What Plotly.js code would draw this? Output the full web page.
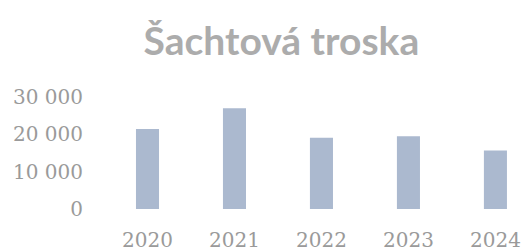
<!DOCTYPE html>
<html>
<head>
<meta charset="utf-8">
<script src="https://cdn.plot.ly/plotly-3.0.1.min.js"></script>
<style>html,body{margin:0;padding:0;background:#fff;}#chart{width:525px;height:251px;}</style>
</head>
<body>
<div id="chart"></div>
<script>
const years = ["2020", "2021", "2022", "2023", "2024"];
const values = [21400, 27000, 19100, 19500, 15700];
const yTicks = [0, 10000, 20000, 30000];
const yTickLabels = ["0", "10 000", "20 000", "30 000"];
const chartTitle = "Šachtová troska";

Plotly.newPlot("chart", [{
  type: "bar",
  x: years,
  y: values,
  marker: {color: "#abb9cf"},
  hoverinfo: "none"
}], {
  width: 525,
  height: 251,
  margin: {l: 104, r: 0, t: 97, b: 42},
  paper_bgcolor: "#ffffff",
  plot_bgcolor: "#ffffff",
  bargap: 0.735,
  showlegend: false,
  title: {
    text: chartTitle,
    x: 0.536, xanchor: "center",
    y: 0.835, yanchor: "middle",
    font: {family: "Lato, sans-serif", size: 39, color: "#acacac", weight: 700}
  },
  xaxis: {
    type: "category",
    range: [-0.5, 4.34],
    showgrid: false, zeroline: false, showline: false, ticks: "",
    tickfont: {family: "DejaVu Serif, serif", size: 20, color: "#9a9a9a"},
    ticklabelstandoff: 17
  },
  yaxis: {
    range: [0, 30000],
    tickvals: yTicks,
    ticktext: yTickLabels,
    showgrid: false, zeroline: false, showline: false, ticks: "",
    tickfont: {family: "DejaVu Serif, serif", size: 20, color: "#9a9a9a"},
    ticklabelstandoff: 20
  }
}, {staticPlot: true, displayModeBar: false});
</script>
</body>
</html>
